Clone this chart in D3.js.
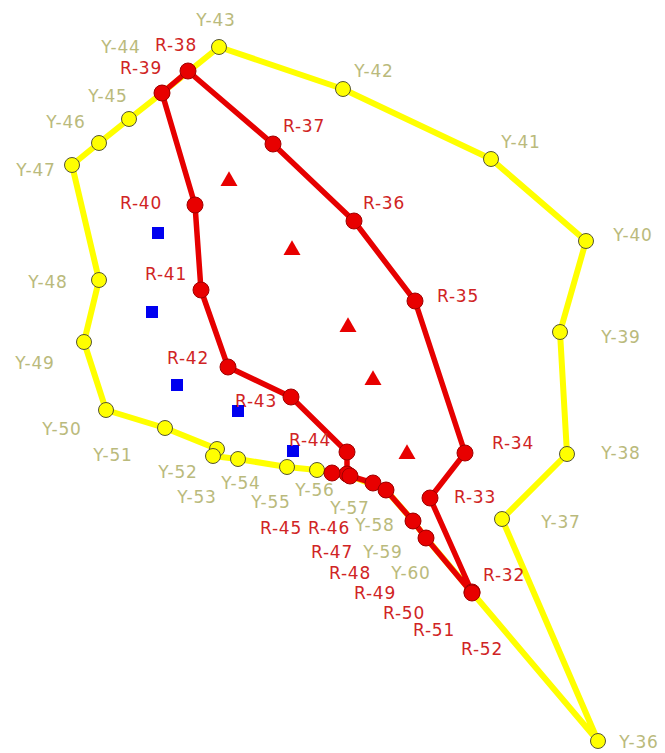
<!DOCTYPE html>
<html>
<head>
<meta charset="utf-8">
<script src="https://cdn.jsdelivr.net/npm/d3@7"></script>
<style>
  html, body { margin: 0; padding: 0; background: #fff; }
  svg { display: block; }
</style>
</head>
<body>
<svg id="chart"></svg>
<script>
// Yellow boundary (Y-36 .. Y-60), closed ring
const yNames = ["Y-36","Y-37","Y-38","Y-39","Y-40","Y-41","Y-42","Y-43","Y-44","Y-45","Y-46","Y-47","Y-48",
  "Y-49","Y-50","Y-51","Y-52","Y-53","Y-54","Y-55","Y-56","Y-57","Y-58","Y-59","Y-60"];
const yX = [598,502,567,560,586,491,343,219,162,129,99,72,99,84,106,165,217,213,238,287,317,348,386,413,426];
const yY = [741,519,454,332,241,159,89,47,93,119,143,165,280,342,410,428,449,456,459,467,470,475,490,521,538];
// label anchor points for the yellow names
const yLabelX = [639,561,621,621,633,521,374,216,121,108,66,36,48,35,62,113,178,197,241,271,315,350,375,383,411];
const yLabelY = [742,522,453,337,235,142,71,20,47,96,122,170,282,363,429,455,472,497,483,502,490,508,525,552,573];

// Red boundary (R-32 .. R-52), closed ring
const rNames = ["R-32","R-33","R-34","R-35","R-36","R-37","R-38","R-39","R-40","R-41","R-42","R-43","R-44",
  "R-45","R-46","R-47","R-48","R-49","R-50","R-51","R-52"];
const rX = [472,430,465,415,354,273,188,162,195,201,228,291,347,347,332,350,373,386,413,426,472];
const rY = [592,498,453,301,221,144,71,93,205,290,367,397,452,474,473,476,483,490,521,538,593];
const rLabelX = [504,475,513,458,384,304,176,141,141,166,188,256,310,281,329,332,350,375,404,434,482];
const rLabelY = [575,497,443,296,203,126,45,68,203,274,358,401,440,528,528,552,573,593,613,630,649];

// other markers
const squareX = [158,152,177,238,293];
const squareY = [233,312,385,411,451];
const triX = [229,292,348,373,407];
const triY = [181,250,327,380,454];

const width = 665;
const height = 753;

const svg = d3.select("#chart")
  .attr("width", width)
  .attr("height", height)
  .attr("viewBox", [0, 0, width, height]);

const x = d3.scaleLinear().domain([0, 665]).range([0, width]);
const y = d3.scaleLinear().domain([0, 753]).range([0, height]);

const yellowPts = yNames.map((n, i) => ({ name: n, x: yX[i], y: yY[i], lx: yLabelX[i], ly: yLabelY[i] }));
const redPts = rNames.map((n, i) => ({ name: n, x: rX[i], y: rY[i], lx: rLabelX[i], ly: rLabelY[i] }));

const line = d3.line()
  .x(d => x(d.x))
  .y(d => y(d.y))
  .curve(d3.curveLinearClosed);

// yellow ring
svg.append("path")
  .datum(yellowPts)
  .attr("fill", "none")
  .attr("stroke", "#ffff00")
  .attr("stroke-width", 6)
  .attr("stroke-linejoin", "round")
  .attr("d", line);

svg.append("g")
  .selectAll("circle")
  .data(yellowPts)
  .join("circle")
  .attr("cx", d => x(d.x))
  .attr("cy", d => y(d.y))
  .attr("r", 7.5)
  .attr("fill", "#ffff00")
  .attr("stroke", "#555533")
  .attr("stroke-width", 1);

// red ring
svg.append("path")
  .datum(redPts)
  .attr("fill", "none")
  .attr("stroke", "#e60000")
  .attr("stroke-width", 5.5)
  .attr("stroke-linejoin", "round")
  .attr("d", line);

svg.append("g")
  .selectAll("circle")
  .data(redPts)
  .join("circle")
  .attr("cx", d => x(d.x))
  .attr("cy", d => y(d.y))
  .attr("r", 8)
  .attr("fill", "#e80000")
  .attr("stroke", "#a00000")
  .attr("stroke-width", 1);

// blue squares
svg.append("g")
  .selectAll("rect")
  .data(squareX)
  .join("rect")
  .attr("x", (d, i) => x(d) - 6)
  .attr("y", (d, i) => y(squareY[i]) - 6)
  .attr("width", 12)
  .attr("height", 12)
  .attr("fill", "#0000f0");

// red triangles
svg.append("g")
  .selectAll("path")
  .data(triX)
  .join("path")
  .attr("transform", (d, i) => `translate(${x(d)},${y(triY[i])})`)
  .attr("d", d3.symbol(d3.symbolTriangle, 125))
  .attr("fill", "#e80000");

// labels
const labelFont = "DejaVu Sans, Liberation Sans, sans-serif";

svg.append("g")
  .selectAll("text")
  .data(yellowPts)
  .join("text")
  .attr("x", d => x(d.lx))
  .attr("y", d => y(d.ly) + 6)
  .attr("text-anchor", "middle")
  .style("font-family", labelFont)
  .style("font-size", "17px")
  .style("letter-spacing", "0.8px")
  .attr("fill", "#baba7c")
  .text(d => d.name);

svg.append("g")
  .selectAll("text")
  .data(redPts)
  .join("text")
  .attr("x", d => x(d.lx))
  .attr("y", d => y(d.ly) + 6)
  .attr("text-anchor", "middle")
  .style("font-family", labelFont)
  .style("font-size", "17px")
  .style("letter-spacing", "0.8px")
  .attr("fill", "#d02424")
  .text(d => d.name);
</script>
</body>
</html>
